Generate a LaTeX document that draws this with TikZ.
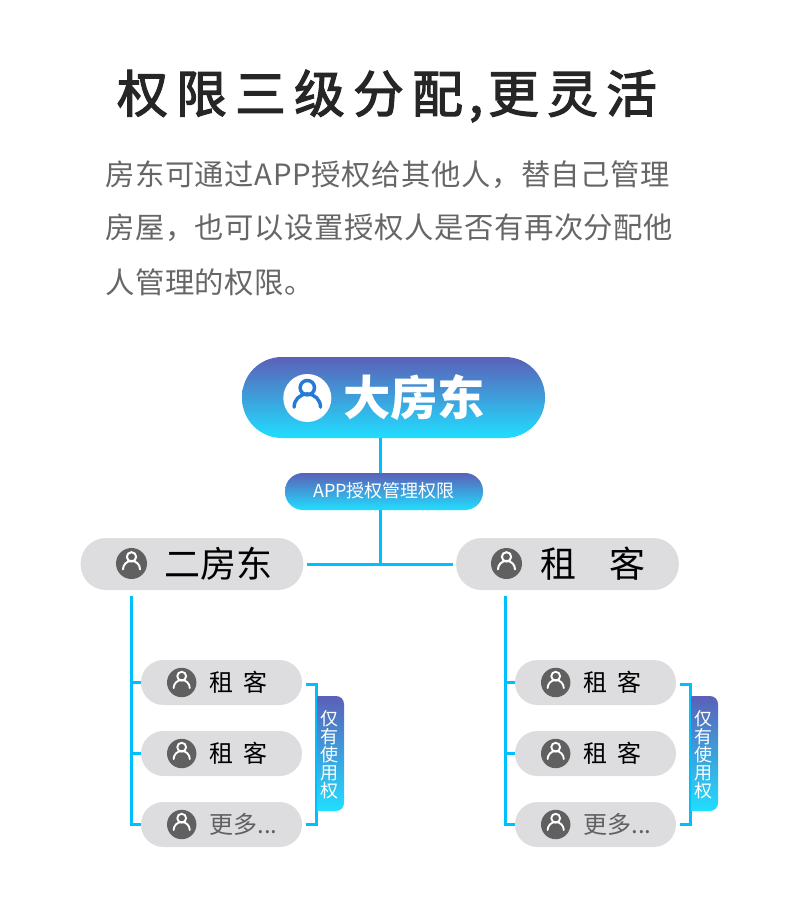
\documentclass[tikz,border=0pt]{standalone}
\usepackage{fontspec}
\setmainfont{Noto Sans CJK SC}
\usetikzlibrary{positioning}
\definecolor{linkblue}{RGB}{0,191,255}
\definecolor{pillgray}{RGB}{221,221,223}
\definecolor{icongray}{RGB}{96,96,96}
\definecolor{gradtop}{RGB}{91,96,184}
\definecolor{gradmid}{RGB}{38,122,214}
\definecolor{gradbot}{RGB}{32,222,255}
\definecolor{bodygray}{RGB}{102,102,102}
\newcommand{\widecomma}{\char"FF0C\relax}
\tikzset{
  gradfill/.style={top color=gradtop, middle color=gradmid, bottom color=gradbot},
  link/.style={draw=linkblue, line width=2.25pt},
  bigpill/.style={rectangle, rounded corners=30pt, gradfill, minimum width=227.25pt, minimum height=60.75pt},
  authpill/.style={rectangle, rounded corners=13.5pt, gradfill, minimum width=148.5pt, minimum height=27.75pt},
  midpill/.style={rectangle, rounded corners=19pt, fill=pillgray, minimum width=167pt, minimum height=39pt},
  subpill/.style={rectangle, rounded corners=16.8pt, fill=pillgray, minimum width=120.75pt, minimum height=33.75pt},
  bodytext/.style={anchor=west, text=bodygray, font=\fontsize{22}{22}\selectfont\addfontfeatures{LetterSpace=2}},
  midtext/.style={text=black, font=\fontsize{27}{27}\selectfont},
  subtext/.style={text=black, font=\fontsize{18}{18}\selectfont},
  pics/personicon/.style 2 args={code={
    \fill[#1] (0,0) circle (1);
    \draw[#2] (0,-.43) circle (.3);
    \draw[#2, line cap=round] (-.55,.38) arc (180:360:.55);
  }}
}
\begin{document}
\begin{tikzpicture}[x=.75pt, y=-.75pt, every node/.style={inner sep=0pt}]
  \useasboundingbox (0,0) rectangle (790,921);
  \node[font=\fontsize{38}{38}\selectfont\addfontfeatures{LetterSpace=16.5,FakeBold=2.5}, text=black!85] (title) at (387,96) {权限三级分配\hspace{.12em},\hspace{.1em}更灵活};
  \node[bodytext] (lineone) at (105,175) {房东可通过APP授权给其他人\widecomma 替自己管理};
  \node[bodytext] (linetwo) at (105,228) {房屋\widecomma 也可以设置授权人是否有再次分配他};
  \node[bodytext] (linethree) at (105,282) {人管理的权限。};
  \node[bigpill] (dafd) at (393.5,397.5) {};
  \node[authpill] (auth) at (384,491.5) {};
  \node[midpill] (erfd) at (192,564) {};
  \node[midpill] (zuke) at (567.5,564) {};
  \coordinate (trunktop) at (380,438);
  \coordinate (trunkmid) at (380,473);
  \coordinate (trunklow) at (380,510);
  \coordinate (trunkend) at (380,564);
  \draw[link] (trunktop)--(trunkmid);
  \draw[link] (trunklow)--(trunkend);
  \draw[link, shorten <=2.8pt, shorten >=2.2pt] (erfd.east)--(zuke.west);
  \pic[scale=24, line width=2.6pt] at (307.3,398) {personicon={white}{gradmid}};
  \node[text=white, font=\fontsize{35.5}{35.5}\selectfont\bfseries] (dafdtext) at (414,398) {大房东};
  \node[text=white, font=\fontsize{13.5}{13.5}\selectfont] (authtext) at (384,491) {APP授权管理权限};
  \pic[scale=15.5, line width=1.5pt] at (131.5,563.5) {personicon={icongray}{white}};
  \pic[scale=15.5, line width=1.5pt] at (506.5,563.5) {personicon={icongray}{white}};
  \node[midtext] (erfdtext) at (218,564) {二房东};
  \node[midtext] (zuketext) at (593,564) {租\hspace{.9em}客};
  \foreach \dx/\side in {0/l,374/r} {
    \coordinate (branch\side) at (131+\dx,597);
    \foreach \i/\y in {1/682.5,2/753.5,3/824.5} {
      \node[subpill] (sub\side\i) at (221.5+\dx,\y) {};
      \pic[scale=14.7, line width=1.4pt] at (181.7+\dx,\y) {personicon={icongray}{white}};
      \coordinate (tick\side\i) at (131+\dx,\y);
      \draw[link] (tick\side\i)--(sub\side\i.west);
    }
    \node[subtext] at (238.5+\dx,682.5) {租\hspace{.45em}客};
    \node[subtext] at (238.5+\dx,753.5) {租\hspace{.45em}客};
    \node[subtext, text=icongray] at (243.5+\dx,824.5) {更多...};
    \draw[link, line cap=rect] (branch\side)--(tick\side3);
    \coordinate (brackettop\side) at (316+\dx,684);
    \coordinate (bracketlow\side) at (316+\dx,824);
    \draw[link] (306+\dx,684)--(brackettop\side)--(bracketlow\side)--(306+\dx,824);
    \shade[gradfill] (317.5+\dx,696) [rounded corners=6pt] -- (344+\dx,696) -- (344+\dx,811) [sharp corners] -- (317.5+\dx,811) -- cycle;
    \node[text=white, align=center, font=\fontsize{13.5}{13.5}\selectfont] (tag\side) at (329.5+\dx,755) {仅\\有\\使\\用\\权};
  }
\end{tikzpicture}
\end{document}
